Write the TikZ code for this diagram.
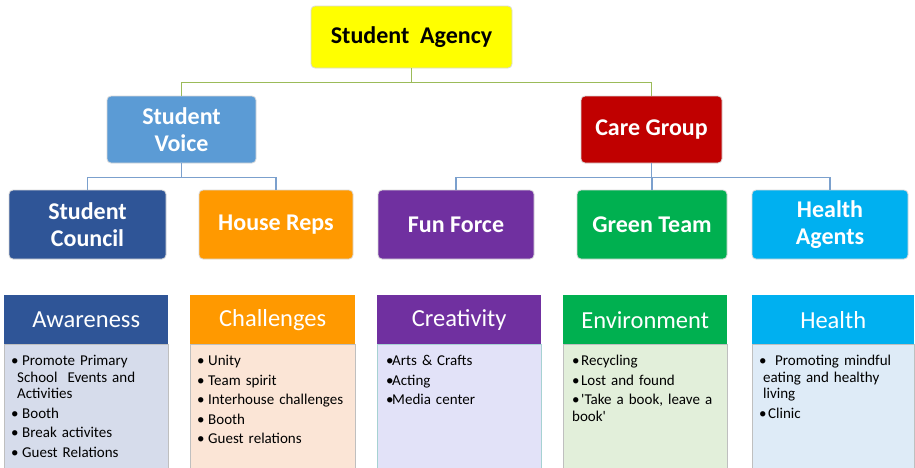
\documentclass[tikz,border=0pt]{standalone}
\usepackage{fontspec}
\setmainfont{Carlito}
\usetikzlibrary{calc}
\definecolor{cyel}{HTML}{FFFF00}
\definecolor{cvoice}{HTML}{5B9BD5}
\definecolor{ccare}{HTML}{C00000}
\definecolor{ccouncil}{HTML}{2F5597}
\definecolor{chouse}{HTML}{FF9900}
\definecolor{cfun}{HTML}{7030A0}
\definecolor{cgreen}{HTML}{00B050}
\definecolor{chealth}{HTML}{00B0F0}
\definecolor{bawar}{HTML}{D6DCEB}
\definecolor{bchal}{HTML}{FBE5D6}
\definecolor{bcrea}{HTML}{E2E2F8}
\definecolor{benv}{HTML}{E2EFDA}
\definecolor{bheal}{HTML}{DEEBF7}
\definecolor{lgreen}{HTML}{9BBB59}
\definecolor{lblue}{HTML}{7BA0CD}
\newcommand{\bl}[3]{\par\hangindent=#1\hangafter=1\noindent\makebox[#2][l]{•}#3}
\newcommand{\nl}{\hfil\break}
\tikzset{
 orgbox/.style={rounded corners=4pt, draw=black!15, line width=0.8pt, inner sep=0pt,
   font=\fontsize{24}{27}\selectfont\bfseries, text=white, align=center},
 hdr/.style={inner sep=0pt, anchor=north west, minimum height=49pt, text=white,
   font=\fontsize{24.5}{28}\selectfont},
 bodybox/.style={draw=black!25, line width=0.8pt, anchor=north west, inner sep=0pt, minimum height=140pt},
 btext/.style={anchor=north west, inner sep=0pt, align=left, text width=#1,
   font=\fontsize{15}{16.5}\selectfont\setlength{\parskip}{3pt}},
 gline/.style={draw=lgreen, line width=1.6pt},
 bline/.style={draw=lblue, line width=1.6pt},
}
\begin{document}
\begin{tikzpicture}[x=1pt,y=-1pt]
\useasboundingbox (0,0) rectangle (915,467);
\clip (0,0) rectangle (915,467);
\fill[white] (0,0) rectangle (915,467);

% level 1
\node[orgbox, fill=cyel, text=black, minimum width=201pt, minimum height=62pt] (top) at (411.5,37) {Student\ \ Agency};
% level 2
\node[orgbox, fill=cvoice, minimum width=149pt, minimum height=67pt] (voice) at (181.5,129.5) {Student\\Voice};
\node[orgbox, fill=ccare, minimum width=141pt, minimum height=67pt] (care) at (651.5,129.5) {Care Group};
% level 3
\node[orgbox, fill=ccouncil, minimum width=157pt, minimum height=69pt] (council) at (87.5,224.5) {Student\\Council};
\node[orgbox, fill=chouse, minimum width=154pt, minimum height=69pt] (house) at (276,224.5) {House Reps};
\node[orgbox, fill=cfun, minimum width=156pt, minimum height=69pt] (fun) at (456,224.5) {Fun Force};
\node[orgbox, fill=cgreen, minimum width=150pt, minimum height=69pt] (green) at (652,224.5) {Green Team};
\node[orgbox, fill=chealth, minimum width=156pt, minimum height=69pt] (agents) at (830,224.5) {Health\\Agents};

% connectors
\draw[gline] (top.south) -- ++(0,14) coordinate (tj);
\draw[gline] (tj) -| (voice.north);
\draw[gline] (tj) -| (care.north);
\draw[bline] (voice.south) -- ++(0,14) coordinate (vj);
\draw[bline] (vj) -| (council.north);
\draw[bline] (vj) -| (house.north);
\draw[bline] (care.south) -- ++(0,14) coordinate (cj);
\draw[bline] (cj) -| (fun.north);
\draw[bline] (cj) -| (green.north);
\draw[bline] (cj) -| (agents.north);

% bottom panels
\node[bodybox, fill=bawar, minimum width=164pt] (awb) at (4,344) {};
\node[hdr, fill=ccouncil, minimum width=164pt] (awh) at (4,295) {Awareness};
\node[btext=155pt] (awt) at (11,346) {%
\bl{6pt}{11pt}{Promote Primary\nl School\ \ Events and\nl Activities}
\bl{6pt}{11pt}{Booth}
\bl{6pt}{11pt}{Break activites}
\bl{6pt}{11pt}{Guest Relations}};

\node[bodybox, fill=bchal, minimum width=165pt] (chb) at (190,344) {};
\node[hdr, fill=chouse, minimum width=165pt] (chh) at (190,295) {Challenges};
\node[btext=158pt] (cht) at (197,346) {%
\bl{11pt}{11pt}{Unity}
\bl{11pt}{11pt}{Team spirit}
\bl{11pt}{11pt}{Interhouse challenges}
\bl{11pt}{11pt}{Booth}
\bl{11pt}{11pt}{Guest relations}};

\node[bodybox, fill=bcrea, draw=teal!35, minimum width=164pt] (crb) at (377,344) {};
\node[hdr, fill=cfun, minimum width=164pt] (crh) at (377,295) {Creativity};
\node[btext=155pt] (crt) at (386,346) {%
\bl{6pt}{6pt}{Arts \& Crafts}
\bl{6pt}{6pt}{Acting}
\bl{6pt}{6pt}{Media center}};

\node[bodybox, fill=benv, minimum width=164pt] (enb) at (563,344) {};
\node[hdr, fill=cgreen, minimum width=164pt] (enh) at (563,295) {Environment};
\node[btext=156pt] (ent) at (572,346) {%
\bl{4pt}{9pt}{Recycling}
\bl{4pt}{9pt}{Lost and found}
\bl{4pt}{9pt}{\textquotesingle Take a book, leave a\nl book\textquotesingle}};

\node[bodybox, fill=bheal, minimum width=162pt] (heb) at (752,344) {};
\node[hdr, fill=chealth, minimum width=162pt] (heh) at (752,295) {Health};
\node[btext=152pt] (het) at (759,346) {%
\bl{4pt}{16pt}{Promoting mindful\nl eating and healthy\nl living}
\bl{4pt}{9pt}{Clinic}};
\end{tikzpicture}
\end{document}
